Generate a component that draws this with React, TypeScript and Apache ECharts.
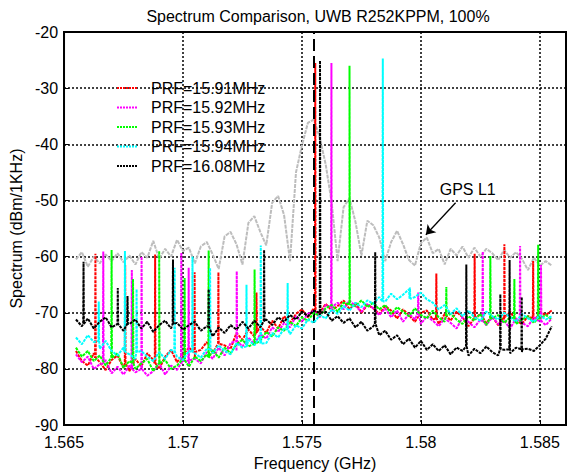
import React, { useEffect, useRef } from 'react';
import * as echarts from 'echarts';

// Frequency sweep grid (GHz) for the noise-floor readings
const F0 = 1.5655;
const STEP = 0.00025;

const seriesNames = ['PRF=15.91MHz', 'PRF=15.92MHz', 'PRF=15.93MHz', 'PRF=15.94MHz', 'PRF=16.08MHz'];
const seriesColors = ['#ff0000', '#ff00ff', '#00ff00', '#00ffff', '#000000'];
const gpsColor = '#bdbdbd';

const xTickLabels = ['1.565', '1.57', '1.575', '1.58', '1.585'];
const yTickLabels = ['-90', '-80', '-70', '-60', '-50', '-40', '-30', '-20'];

// GPS L1 spectrum (gray)
const gpsBase = [
  -60.5, -59.2, -61.8, -60, -61.2, -59.6, -60.8, -59.4, -61, -59.8, -61.4,
  -59.2, -60.2, -57.2, -60.4, -58.6, -60, -57, -59, -58.4, -61.2,
  -58.2, -57.4, -59.6, -62.2, -56.4, -55.6, -57.8, -61.4, -54, -52.8,
  -55.6, -58, -50.4, -49.2, -52.6, -60.8, -45, -40.2, -36.2, -35.6,
  -38.8, -43.6, -50.4, -60.8, -51.2, -49.6, -53.8, -59.8, -53.6, -54.4,
  -56.6, -60.8, -57.4, -55.4, -57.8, -60.6, -61.6, -57.6, -56.6, -59.4,
  -58.6, -61.4, -58.6, -59.8, -58.2, -60.2, -58.4, -60, -58.6, -59.4,
  -60.6, -58.8, -60.2, -59.2, -60.4, -62.4, -60.2, -61.6, -60.8, -61.6,
];

// Noise floors of the UWB spectra
const redBase = [
  -76.8, -78.6, -79.4, -77.2, -78.8, -80.2, -78.4, -77.6, -79.8, -80.4, -78.2,
  -79.6, -77.2, -78.4, -80, -77.8, -76.6, -78.8, -77.4, -76.2, -78,
  -76.6, -75.2, -77.2, -74.6, -75.8, -76.4, -73.6, -74.8, -73, -74.2,
  -72.4, -73.6, -71.4, -72.8, -70.6, -71.8, -70.2, -69.4, -70.8, -69.2,
  -70, -68.4, -69.6, -68.8, -67.8, -69.4, -68.2, -70, -68.6, -69.2,
  -70.2, -68.8, -69.6, -71, -69.4, -70.4, -71.6, -70, -69.6, -71.2,
  -72, -70.2, -71.4, -69.8, -70.8, -72.4, -71, -70.2, -71.8, -70.6,
  -72.2, -71.2, -69.8, -71.4, -72, -70.6, -71.6, -69.8, -70.4, -69.6,
];
const magentaBase = [
  -77.4, -78.8, -77.8, -80, -79.2, -78.4, -80.8, -79.6, -81, -79.4, -80.6,
  -79.8, -81.2, -80.4, -79, -81, -79.4, -80.2, -78.6, -79.6, -78.2,
  -79, -77, -78.2, -76.2, -77.6, -75.4, -76.8, -76, -74.4, -75.6,
  -73.8, -74.6, -72.6, -73.4, -71.8, -72.6, -70.6, -71.6, -70.2, -69.6,
  -70.8, -68.6, -69.8, -68.2, -69.4, -67.8, -68.8, -69.8, -68.4, -69.2,
  -70.4, -69.2, -70.8, -69.6, -71.6, -70.2, -71.2, -72, -70.6, -71.4,
  -72.4, -71, -71.8, -72.8, -70.8, -71.6, -72.6, -71.2, -72.2, -70.8,
  -72, -71.4, -72.8, -71, -71.8, -72.4, -70.8, -71.6, -72.2, -71,
];
const greenBase = [
  -76.2, -77.8, -76.8, -78.6, -77.6, -79.4, -78, -77.2, -79.8, -78.6, -80,
  -79, -78.2, -80.4, -79.2, -78.4, -80, -79.4, -78.2, -79.6, -77.8,
  -78.6, -77.4, -76.6, -78, -76.2, -77.2, -75.6, -74.8, -76, -74.2,
  -75, -73.4, -74.2, -72.6, -73.2, -71.6, -72.4, -70.8, -71.4, -70,
  -70.6, -69.2, -68.6, -69.8, -68.2, -67.6, -68.8, -67.8, -69, -68.2,
  -69.4, -68.6, -70.2, -69, -69.8, -70.6, -69.2, -70.4, -71, -69.6,
  -70.8, -71.6, -70.2, -71.2, -72, -70.6, -71.4, -70.2, -72.2, -71,
  -70.4, -71.8, -70.8, -72, -71.2, -70.6, -71.8, -71, -70.4, -71.2,
];
const cyanBase = [
  -74.4, -75.6, -74, -75.2, -76.4, -75, -76.8, -77.6, -76.2, -77.4, -78.2,
  -76.8, -77.8, -78.6, -77, -78.2, -76.6, -77.8, -78.4, -76.8, -77.2,
  -78, -76.4, -77.2, -75.8, -76.8, -77.4, -75.4, -76.2, -74.8, -75.8,
  -74.2, -75.4, -73.6, -74.4, -72.8, -73.8, -72.2, -72.8, -71.2, -71.8,
  -70.4, -71, -69.4, -70.2, -68.8, -69.6, -68.2, -69, -67.8, -68.4,
  -67.2, -68, -66.6, -67.6, -66.8, -65.8, -67.2, -66.4, -67.6, -68.2,
  -69.4, -68.6, -70.2, -69.2, -70.6, -69.6, -70.8, -71.4, -69.8, -70.6,
  -71.2, -70, -70.8, -71.6, -70.2, -71, -71.6, -70.4, -71.2, -70.6,
];
const blackBase = [
  -71.2, -72.4, -71, -72.8, -71.6, -70.8, -72.6, -71.4, -73.2, -72, -71.2,
  -72.8, -71.6, -73.4, -72.2, -71.4, -72.8, -71.8, -73, -72.2, -71.6,
  -73.2, -72.4, -74.2, -72.6, -73.6, -72.2, -73, -71.6, -72.8, -71.4,
  -72.6, -71.2, -72.2, -70.8, -71.6, -70.4, -71.2, -69.8, -70.6, -69.6,
  -70.4, -69.8, -71.4, -70.6, -71.8, -71, -72.6, -71.6, -73.2, -72.4,
  -74, -73.2, -74.8, -74, -75.6, -74.6, -76.2, -75, -76.6, -75.6,
  -76.8, -75.8, -77.4, -76.2, -76.8, -77.6, -76.4, -77.2, -76, -77,
  -77.6, -76.6, -77.2, -76.2, -77, -76.4, -76.8, -75.8, -74.6, -72.4,
];

// Spurs: [frequency GHz, peak dBm, foot dBm]
const redSpikes = [
  [1.56632, -59.5, -78], [1.56757, -61.5, -79], [1.56883, -59.6, -79],
  [1.57049, -62.8, -77], [1.57149, -62.8, -75.5], [1.57309, -66.4, -73.5],
  [1.57556, -25.5, -69.8], [1.58065, -63, -71], [1.58226, -59.5, -71],
  [1.58351, -57.8, -70.8], [1.58472, -60.8, -71],
];
const magentaSpikes = [
  [1.56665, -59.1, -79], [1.56785, -62.4, -80], [1.56826, -60, -80],
  [1.56993, -59.3, -79], [1.57024, -62, -78.5], [1.57226, -62.6, -75],
  [1.57624, -25.5, -69], [1.57989, -66.4, -70], [1.5826, -59.1, -71.5],
  [1.58417, -58.1, -71.5], [1.58505, -61.5, -71.5],
];
const greenSpikes = [
  [1.567, -58.8, -78], [1.5679, -64, -79], [1.569, -59, -79],
  [1.57007, -63.8, -78.5], [1.57108, -58.9, -78], [1.57301, -62.3, -75.5],
  [1.577, -26, -68.5], [1.58107, -65.4, -70.5], [1.58292, -59.9, -71],
  [1.58393, -64, -71], [1.58493, -57.9, -71],
];
const cyanSpikes = [
  [1.56646, -68, -75], [1.56756, -59, -77], [1.56805, -65.8, -77],
  [1.56965, -62, -77], [1.5704, -60, -77], [1.57114, -62, -76.5],
  [1.57267, -65, -76], [1.57327, -58, -75.5], [1.5744, -64.7, -73],
  [1.5784, -24.7, -68], [1.57954, -65.5, -67.5],
];
const blackSpikes = [
  [1.56582, -60.9, -72], [1.56726, -65.6, -72], [1.56767, -67, -72],
  [1.56958, -60.5, -72], [1.57108, -65.8, -72.5], [1.57341, -58.8, -71.5],
  [1.57576, -25.1, -70], [1.57808, -59.2, -72], [1.58191, -61.4, -76],
  [1.58334, -66.7, -76.5], [1.58373, -60.6, -76.5], [1.58424, -67.2, -76.5],
];

// Annotation and marker
const gpsL1Freq = 1.5755;
const arrowFrom = [1.58146, -50.4];
const arrowTo = [1.58021, -56.1];
const gpsLabelAt = [1.58197, -48];

function buildSeries(base: number[], spikes: number[][]): number[][] {
  const pts: number[][] = base.map((v, i) => [F0 + i * STEP, v]);
  const hw = 0.000015;
  spikes.forEach(([f, p, foot]) => {
    pts.push([f - hw, foot], [f, p], [f + hw, foot]);
  });
  pts.sort((a, b) => a[0] - b[0]);
  return pts;
}

const FONT = 'Liberation Sans, Arial, sans-serif';
const FS = 16;
const dottedIcon =
  'path://M0 0h2v2H0zM3 0h2v2H3zM6 0h2v2H6zM9 0h2v2H9zM12 0h2v2h-2zM15 0h2v2h-2zM18 0h2v2h-2z';

export default function App() {
  const ref = useRef<HTMLDivElement>(null);
  useEffect(() => {
    if (!ref.current) return;
    const chart = echarts.init(ref.current, undefined, { renderer: 'svg' });
    const bases = [redBase, magentaBase, greenBase, cyanBase, blackBase];
    const spikes = [redSpikes, magentaSpikes, greenSpikes, cyanSpikes, blackSpikes];
    const colored = seriesNames.map((name, k) => ({
      name,
      type: 'line',
      symbol: 'none',
      data: buildSeries(bases[k], spikes[k]),
      lineStyle: { color: seriesColors[k], width: 2, type: [3, 1] },
      itemStyle: { color: seriesColors[k] },
      z: 3 + k,
    }));
    const option: any = {
      animation: false,
      backgroundColor: '#fff',
      title: {
        text: 'Spectrum Comparison, UWB R252KPPM, 100%',
        left: 313,
        top: 3,
        textAlign: 'center',
        textStyle: { fontSize: FS, fontWeight: 'normal', color: '#000', fontFamily: FONT },
      },
      legend: {
        data: seriesNames.map((n) => ({ name: n, icon: dottedIcon })),
        orient: 'vertical',
        left: 112,
        top: 75,
        itemWidth: 20,
        itemHeight: 2,
        itemGap: 3.5,
        textStyle: { fontSize: FS, color: '#000', fontFamily: FONT, padding: [0, 0, 0, 9] },
      },
      grid: {
        left: 61,
        right: 6,
        top: 32,
        bottom: 45,
        show: true,
        borderColor: '#000',
        borderWidth: 2,
        backgroundColor: 'transparent',
      },
      xAxis: {
        type: 'value',
        min: 1.565,
        max: 1.5861,
        interval: 0.005,
        name: 'Frequency (GHz)',
        nameLocation: 'middle',
        nameGap: 29,
        nameTextStyle: { fontSize: FS, color: '#000', fontFamily: FONT },
        axisLine: { show: true, lineStyle: { color: '#000', width: 2 } },
        axisTick: { show: true, inside: true, length: 5, lineStyle: { color: '#000' } },
        axisLabel: {
          color: '#000',
          fontSize: FS,
          fontFamily: FONT,
          margin: 9,
          showMaxLabel: false,
          formatter: (v: number) => {
            const idx = Math.round((v - 1.565) / 0.005);
            return xTickLabels[idx] ?? '';
          },
        },
        splitLine: { show: true, lineStyle: { color: '#000', type: [2, 2], width: 1.5 } },
      },
      yAxis: {
        type: 'value',
        min: -90,
        max: -20,
        interval: 10,
        name: 'Spectrum (dBm/1KHz)',
        nameLocation: 'middle',
        nameGap: 35,
        nameRotate: 90,
        nameTextStyle: { fontSize: FS, color: '#000', fontFamily: FONT },
        axisLine: { show: true, lineStyle: { color: '#000', width: 2 } },
        axisTick: { show: true, inside: true, length: 5, lineStyle: { color: '#000' } },
        axisLabel: {
          color: '#000',
          fontSize: FS,
          fontFamily: FONT,
          margin: 6,
          formatter: (v: number) => {
            const idx = Math.round((v + 90) / 10);
            return yTickLabels[idx] ?? '';
          },
        },
        splitLine: { show: true, lineStyle: { color: '#000', type: [2, 2], width: 1.5 } },
      },
      series: [
        {
          name: 'GPS L1',
          type: 'line',
          symbol: 'none',
          data: buildSeries(gpsBase, []),
          lineStyle: { color: gpsColor, width: 2, type: [4, 1] },
          z: 2,
          markLine: {
            silent: true,
            symbol: 'none',
            label: { show: false },
            data: [
              [
                { coord: [gpsL1Freq, -90], symbol: 'none', lineStyle: { color: '#000', type: [12, 5], width: 2 } },
                { coord: [gpsL1Freq, -20], symbol: 'none' },
              ],
              [
                { coord: arrowFrom, symbol: 'none', lineStyle: { color: '#000', type: 'solid', width: 1.3 } },
                { coord: arrowTo, symbol: 'arrow', symbolSize: 9 },
              ],
            ],
            lineStyle: { color: '#000', type: 'solid', width: 1.3 },
          },
          markPoint: {
            silent: true,
            symbol: 'circle',
            symbolSize: 0,
            data: [{ coord: gpsLabelAt, value: 'GPS L1' }],
            label: {
              show: true,
              position: 'inside',
              formatter: 'GPS L1',
              color: '#000',
              fontSize: FS,
              fontFamily: FONT,
            },
          },
        },
        ...colored,
      ],
    };
    chart.setOption(option);
    return () => chart.dispose();
  }, []);
  return (
    <div
      ref={ref}
      style={{ position: 'fixed', left: 0, top: 0, width: 572, height: 476, background: '#fff' }}
    />
  );
}
